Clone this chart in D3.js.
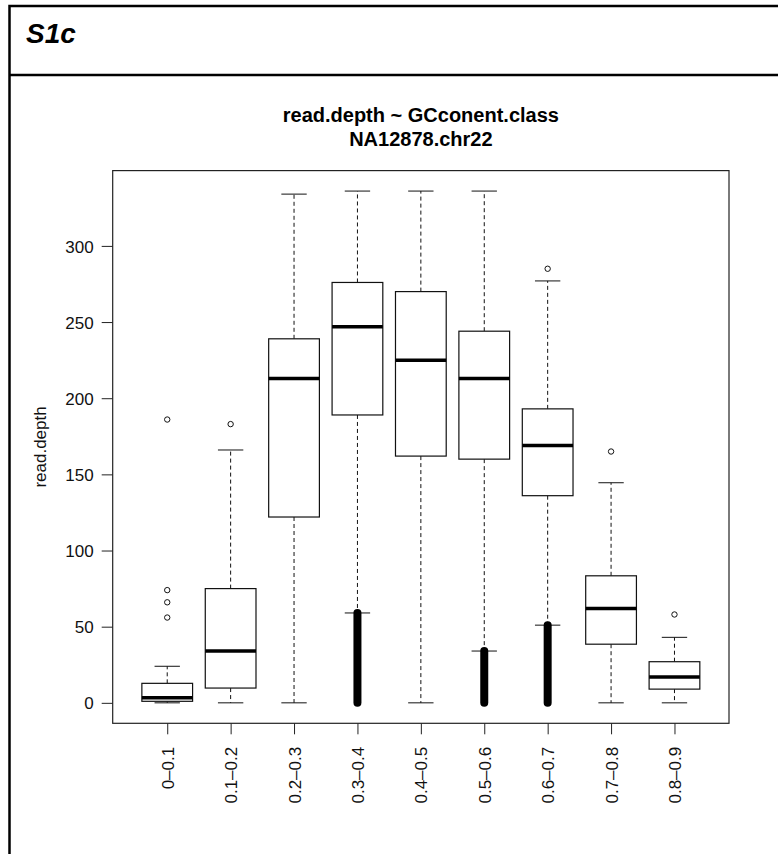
<!DOCTYPE html>
<html>
<head>
<meta charset="utf-8">
<script src="https://cdn.jsdelivr.net/npm/d3@7"></script>
<style>
    body { margin: 0; background: #fff; }
    svg { display: block; font-family: "Liberation Sans", Arial, sans-serif; }
</style>
</head>
<body>
<svg id="chart" width="778" height="854"></svg>
<script>
const categories = ["0–0.1", "0.1–0.2", "0.2–0.3", "0.3–0.4", "0.4–0.5", "0.5–0.6", "0.6–0.7", "0.7–0.8", "0.8–0.9"]
const whiskerLow = [0, 0, 0, 59, 0, 34, 51, 0, 0]
const q1 = [1, 9.7, 122, 189, 162, 160, 136, 38.5, 9]
const median = [3.3, 34, 213, 247, 225, 213, 169, 62, 17]
const q3 = [12.8, 75, 239, 276, 270, 244, 193, 83.4, 27]
const whiskerHigh = [24, 166, 334, 336, 336, 336, 277, 144.5, 43]
const outliers = [[56, 66, 74, 186], [183], [], [], [], [], [285], [165], [58]]
// ranges so packed with outlier points that they print as one solid bar
const denseOutliers = [null, null, null, [0, 59], null, [0, 34], [0, 51], null, null]
const yTicks = [0, 50, 100, 150, 200, 250, 300]

let svg = d3.select("#chart"),
    plot = {left: 112.7, right: 729, top: 170.6, bottom: 723.3},
    dataMax = 336,
    pad = dataMax * 0.04,
    x = d3.scaleLinear().domain([0.14, 9.86]).range([plot.left, plot.right]),
    y = d3.scaleLinear().domain([-pad, dataMax + pad]).range([plot.bottom, plot.top]),
    boxHalf = (x(1) - x(0)) * 0.4,
    capHalf = boxHalf / 2,
    stats = categories.map((name, i) => ({
        name: name,
        pos: i + 1,
        lo: whiskerLow[i],
        q1: q1[i],
        med: median[i],
        q3: q3[i],
        hi: whiskerHigh[i],
        out: outliers[i],
        dense: denseOutliers[i]
    }))

// panel frame and header
svg.append("rect")
    .attr("x", 9.5)
    .attr("y", 6)
    .attr("width", 800)
    .attr("height", 900)
    .style("fill", "none")
    .style("stroke", "#000")
    .style("stroke-width", 2.5)

svg.append("line")
    .attr("x1", 9.5)
    .attr("x2", 800)
    .attr("y1", 75)
    .attr("y2", 75)
    .style("stroke", "#000")
    .style("stroke-width", 2.5)

svg.append("text")
    .text("S1c")
    .attr("x", 26)
    .attr("y", 42.5)
    .style("font-size", "28px")
    .style("font-weight", "bold")
    .style("font-style", "italic")
    .style("fill", "#000")

// titles
svg.append("text")
    .text("read.depth ~ GCconent.class")
    .attr("x", (plot.left + plot.right) / 2)
    .attr("y", 121.5)
    .attr("text-anchor", "middle")
    .style("font-size", "20px")
    .style("font-weight", "bold")

svg.append("text")
    .text("NA12878.chr22")
    .attr("x", (plot.left + plot.right) / 2)
    .attr("y", 145.7)
    .attr("text-anchor", "middle")
    .style("font-size", "20px")
    .style("font-weight", "bold")

// axes
let yAxis = svg.append("g")
    .attr("transform", `translate(${plot.left}, 0)`)
    .call(d3.axisLeft(y).tickValues(yTicks).tickSize(11).tickPadding(8))

let xAxis = svg.append("g")
    .attr("transform", `translate(0, ${plot.bottom})`)
    .call(d3.axisBottom(x).tickValues(stats.map(d => d.pos)).tickSize(11).tickFormat((d, i) => categories[i]))

yAxis.select(".domain").remove()
xAxis.select(".domain").remove()

svg.selectAll(".tick line").style("stroke", "#222")
svg.selectAll(".tick text")
    .style("font-size", "17px")
    .style("fill", "#111")
    .style("font-family", "\"Liberation Sans\", Arial, sans-serif")

yAxis.selectAll(".tick text").attr("dy", "0.36em")

xAxis.selectAll(".tick text")
    .attr("transform", "rotate(-90)")
    .attr("text-anchor", "end")
    .attr("x", -23.5)
    .attr("y", 0)
    .attr("dy", "0.36em")

svg.append("rect")
    .attr("x", plot.left)
    .attr("y", plot.top)
    .attr("width", plot.right - plot.left)
    .attr("height", plot.bottom - plot.top)
    .style("fill", "none")
    .style("stroke", "#222")
    .style("stroke-width", 1.2)

svg.append("text")
    .text("read.depth")
    .attr("transform", `translate(46, ${(plot.top + plot.bottom) / 2}) rotate(-90)`)
    .attr("text-anchor", "middle")
    .style("font-size", "17px")
    .style("fill", "#111")

// boxes
let boxes = svg.append("g")
    .selectAll("g")
    .data(stats)
    .join("g")

boxes.append("line")
    .attr("x1", d => x(d.pos))
    .attr("x2", d => x(d.pos))
    .attr("y1", d => y(d.q3))
    .attr("y2", d => y(d.hi))
    .style("stroke", "#111")
    .style("stroke-dasharray", "4,3")

boxes.append("line")
    .attr("x1", d => x(d.pos))
    .attr("x2", d => x(d.pos))
    .attr("y1", d => y(d.q1))
    .attr("y2", d => y(d.lo))
    .style("stroke", "#111")
    .style("stroke-dasharray", "4,3")

boxes.selectAll("line.cap")
    .data(d => [d, d].map((s, k) => ({pos: s.pos, v: k ? s.hi : s.lo})))
    .join("line")
    .attr("class", "cap")
    .attr("x1", d => x(d.pos) - capHalf)
    .attr("x2", d => x(d.pos) + capHalf)
    .attr("y1", d => y(d.v))
    .attr("y2", d => y(d.v))
    .style("stroke", "#111")

boxes.append("rect")
    .attr("x", d => x(d.pos) - boxHalf)
    .attr("width", boxHalf * 2)
    .attr("y", d => y(d.q3))
    .attr("height", d => y(d.q1) - y(d.q3))
    .style("fill", "#fff")
    .style("stroke", "#111")
    .style("stroke-width", 1.2)

boxes.append("line")
    .attr("x1", d => x(d.pos) - boxHalf)
    .attr("x2", d => x(d.pos) + boxHalf)
    .attr("y1", d => y(d.med))
    .attr("y2", d => y(d.med))
    .style("stroke", "#000")
    .style("stroke-width", 3.5)

boxes.filter(d => d.dense)
    .append("line")
    .attr("x1", d => x(d.pos))
    .attr("x2", d => x(d.pos))
    .attr("y1", d => y(d.dense[0]))
    .attr("y2", d => y(d.dense[1]))
    .style("stroke", "#000")
    .style("stroke-width", 8)
    .style("stroke-linecap", "round")

boxes.selectAll("circle")
    .data(d => d.out.map(v => ({pos: d.pos, v: v})))
    .join("circle")
    .attr("cx", d => x(d.pos))
    .attr("cy", d => y(d.v))
    .attr("r", 2.7)
    .style("fill", "none")
    .style("stroke", "#111")
    .style("stroke-width", 1)
</script>
</body>
</html>
